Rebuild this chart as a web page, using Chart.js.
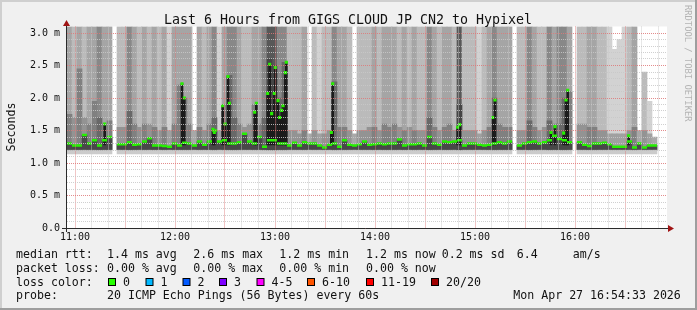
<!DOCTYPE html>
<html>
<head>
<meta charset="utf-8">
<script src="https://cdn.jsdelivr.net/npm/chart.js@4.4.1/dist/chart.umd.min.js"></script>
<style>
html, body { margin: 0; padding: 0; background: #f0f0f0; }
canvas { display: block; }
</style>
</head>
<body>
<canvas id="grafico" width="697" height="310"></canvas>
<script>
// Tempo em minutos depois das 10:00 (o gráfico começa 10:55:12, blocos de 3 min)
const inicio = 55.2;
const passo = 3;

// Tom da fumaça de cima por bloco: 0 branco, 1..5 claro -> escuro, null = sem dados
const tons = [
    3, 2, 3, 2, 3, 3, 4, 3, 3, null, 2, 2, 4, 3, 2, 3, 2, 3, 2, 3,
    1, 3, 3, 3, 3, 0, 3, 2, 3, 4, 1, 3, 4, 4, 3, 2, 2, 3, 3, 4,
    5, 5, 4, 4, 2, 2, 2, 3, 0, 2, 1, 2, 2, 4, 3, 3, 2, 0, 2, 2,
    2, 3, 2, 3, 3, 3, 2, 3, 2, 3, 2, 2, 4, 3, 2, 3, 3, 2, 5, 2,
    2, 2, 1, 2, 3, 4, 3, 3, 3, null, 2, 2, 4, 3, 2, 2, 4, 3, 4, 4,
    3, null, 2, 2, 3, 3, 2, 2, 1, 1, 1, 1, 2, 3, 0, 2, 1, 0, null, null
];

// Topo da fumaça (segundos em ms), 3.1 = passa do topo do gráfico
const topo = [
    3.1, 3.1, 3.1, 3.1, 3.1, 3.1, 3.1, 3.1, 3.1, null, 3.1, 3.1, 3.1, 3.1, 3.1, 3.1, 3.1, 3.1, 3.1, 3.1,
    3.1, 3.1, 3.1, 3.1, 3.1, null, 3.1, 3.1, 3.1, 3.1, 3.1, 3.1, 3.1, 3.1, 3.1, 3.1, 3.1, 3.1, 3.1, 3.1,
    3.1, 3.1, 3.1, 3.1, 3.1, 3.1, 3.1, 3.1, null, 3.1, 3.1, 3.1, 3.1, 3.1, 3.1, 3.1, 3.1, null, 3.1, 3.1,
    3.1, 3.1, 3.1, 3.1, 3.1, 3.1, 3.1, 3.1, 3.1, 3.1, 3.1, 3.1, 3.1, 3.1, 3.1, 3.1, 3.1, 3.1, 3.1, 3.1,
    3.1, 3.1, 3.1, 3.1, 3.1, 3.1, 3.1, 3.1, 3.1, null, 3.1, 3.1, 3.1, 3.1, 3.1, 3.1, 3.1, 3.1, 3.1, 3.1,
    3.1, null, 3.1, 3.1, 3.1, 3.1, 3.1, 3.1, 3.1, 2.75, 2.9, 3.1, 3.1, 3.1, null, 2.4, 1.95, null, null, null
];

// Topo da parte escura de baixo
const faixaBaixa = [
    1.75, 1.7, 2.45, 1.7, 1.6, 1.95, 1.7, 1.6, 1.65, null, 1.55, 1.55, 1.8, 1.6, 1.55, 1.6, 1.6, 1.55, 1.5, 1.55,
    1.5, 1.6, 2.2, 2.0, 1.6, 1.5, 1.55, 1.5, 1.6, 1.7, 1.5, 1.9, 2.35, 1.7, 1.6, 1.55, 1.6, 1.9, 1.6, 1.7,
    2.6, 2.5, 2.0, 2.55, 1.5, 1.5, 1.45, 1.5, 1.45, 1.5, 1.45, 1.45, 1.5, 2.25, 1.55, 1.55, 1.5, 1.45, 1.5, 1.5,
    1.55, 1.55, 1.5, 1.6, 1.55, 1.6, 1.55, 1.5, 1.55, 1.5, 1.5, 1.5, 1.7, 1.55, 1.5, 1.55, 1.6, 1.5, 1.9, 1.5,
    1.5, 1.5, 1.45, 1.5, 1.55, 2.0, 1.6, 1.55, 1.55, null, 1.5, 1.5, 1.65, 1.55, 1.5, 1.55, 1.65, 1.6, 1.6, 2.0,
    2.1, null, 1.6, 1.6, 1.55, 1.55, 1.5, 1.5, 1.45, 1.45, 1.45, 1.45, 1.5, 1.55, 1.5, 1.5, 1.45, 1.4, null, null
];

// Mediana do rtt por bloco
const mediana = [
    1.30, 1.27, 1.27, 1.43, 1.30, 1.35, 1.27, 1.35, 1.40, null, 1.29, 1.29, 1.32, 1.28, 1.29, 1.33, 1.38, 1.27, 1.27, 1.26,
    1.25, 1.30, 1.27, 1.31, 1.30, 1.27, 1.33, 1.28, 1.33, 1.50, 1.33, 1.35, 1.30, 1.30, 1.32, 1.45, 1.33, 1.30, 1.40, 1.25,
    1.35, 1.35, 1.30, 1.30, 1.27, 1.31, 1.27, 1.32, 1.30, 1.30, 1.27, 1.24, 1.28, 1.30, 1.25, 1.35, 1.28, 1.27, 1.29, 1.33,
    1.28, 1.29, 1.30, 1.29, 1.30, 1.30, 1.36, 1.27, 1.29, 1.29, 1.30, 1.27, 1.40, 1.30, 1.28, 1.33, 1.32, 1.33, 1.35, 1.27,
    1.30, 1.30, 1.28, 1.27, 1.28, 1.30, 1.32, 1.30, 1.33, null, 1.27, 1.30, 1.32, 1.33, 1.30, 1.32, 1.35, 1.42, 1.37, 1.35,
    1.32, null, 1.32, 1.28, 1.26, 1.30, 1.30, 1.31, 1.29, 1.25, 1.25, 1.25, 1.33, 1.24, 1.30, 1.24, 1.27, 1.27, null, null
];

// Picos da mediana (minutos depois das 10:00 e valor)
const picosT = [77.8, 124.2, 125.6, 142.8, 143.6, 148.6, 150.0, 151.8, 152.6, 167.8, 168.8,
    175.6, 176.8, 178.0, 179.6, 180.2, 181.8, 182.8, 184.0, 184.8, 186.2, 186.8,
    213.8, 214.6, 289.6, 290.8, 310.6, 312.0, 345.6, 348.0, 353.2, 354.6, 355.6, 392.2];
const picosV = [1.60, 2.22, 2.00, 1.52, 1.47, 1.88, 1.60, 2.33, 1.92, 1.78, 1.92,
    2.07, 2.52, 1.76, 2.07, 2.47, 1.96, 1.70, 1.81, 1.88, 2.39, 2.55,
    1.47, 2.22, 1.55, 1.59, 1.70, 1.97, 1.47, 1.56, 1.46, 1.97, 2.12, 1.42];

// Legenda das cores de perda
const perdaRotulos = ['0', '1', '2', '3', '4-5', '6-10', '11-19', '20/20'];
const perdaCores = ['#26ff00', '#00b8ff', '#0059ff', '#7e00ff', '#ff00ff', '#ff5500', '#ff0000', '#a00000'];
const perdaX = [108, 145.5, 182.5, 219, 256.5, 307, 366, 431];

const corTopo = ['#ffffff', '#d2d2d2', '#bbbbbb', '#a5a5a5', '#888888', '#585858'];
const corBaixo = ['#a8a8a8', '#a0a0a0', '#939393', '#808080', '#686868', '#454545'];
const verde = '#26f000';

// Monta os dados das camadas
const fumacaTopo = [], fumacaBaixo = [], nucleo = [], franja = [], linhaMediana = [];
tons.forEach((s, i) => {
    if (s === null) return;
    const x = inicio + passo * i + passo / 2;
    if (s > 0) fumacaTopo.push({ x, y: [1.2, topo[i]], s });
    fumacaBaixo.push({ x, y: [1.2, faixaBaixa[i]], s });
    nucleo.push({ x, y: [1.21, mediana[i]] });
    franja.push({ x, y: [1.14, 1.21] });
    linhaMediana.push({ x, y: mediana[i] });
});
const picos = picosT.map((t, i) => ({ x: t, y: picosV[i] }));
const picosBarra = picosT.map((t, i) => ({ x: t, y: [1.28, picosV[i]] }));

const xTicks = [];
for (let v = 60; v <= 410; v += 10) xTicks.push(v);
const yTicks = [];
for (let k = 0; k <= 30; k++) yTicks.push(k / 10);

function barra(data, cor, largura, ordem) {
    return { type: 'bar', data, backgroundColor: cor, barThickness: largura, grouped: false, borderWidth: 0, order: ordem };
}

function corGrade(maior) {
    return maior ? 'rgba(222,120,120,0.85)' : 'rgba(200,200,200,0.85)';
}

// Fundo, eixos, título e legenda
const decoracao = {
    id: 'decoracao',
    beforeDraw(chart) {
        const c = chart.ctx, a = chart.chartArea;
        c.save();
        c.fillStyle = '#f0f0f0';
        c.fillRect(0, 0, 697, 310);
        c.fillStyle = '#cfcfcf';
        c.fillRect(0, 0, 697, 2);
        c.fillRect(0, 0, 2, 310);
        c.fillStyle = '#9e9e9e';
        c.fillRect(0, 308, 697, 2);
        c.fillRect(695, 0, 2, 310);
        c.fillStyle = '#ffffff';
        c.fillRect(a.left, a.top, a.right - a.left, a.bottom - a.top);
        c.restore();
    },
    afterDraw(chart) {
        const c = chart.ctx;
        c.save();
        c.strokeStyle = '#2a2a2a';
        c.lineWidth = 1;
        c.beginPath();
        c.moveTo(62, 228.5); c.lineTo(669, 228.5);
        c.moveTo(66.5, 232); c.lineTo(66.5, 24);
        c.stroke();
        c.fillStyle = '#a01414';
        c.beginPath(); c.moveTo(668, 225); c.lineTo(674, 228.5); c.lineTo(668, 232); c.closePath(); c.fill();
        c.beginPath(); c.moveTo(63, 26); c.lineTo(66.5, 20); c.lineTo(70, 26); c.closePath(); c.fill();

        c.fillStyle = '#111';
        c.font = "13.3px 'DejaVu Sans Mono'";
        c.textAlign = 'center';
        c.fillText('Last 6 Hours from GIGS CLOUD JP CN2 to Hypixel', 348, 24);

        c.font = "11.6px 'DejaVu Sans Mono'";
        c.save();
        c.translate(14.5, 127);
        c.rotate(-Math.PI / 2);
        c.fillText('Seconds', 0, 0);
        c.restore();

        c.save();
        c.fillStyle = '#b4b4b4';
        c.font = "8.8px 'DejaVu Sans Mono'";
        c.textAlign = 'left';
        c.translate(684.5, 5);
        c.rotate(Math.PI / 2);
        c.fillText('RRDTOOL / TOBI OETIKER', 0, 0);
        c.restore();

        c.textAlign = 'left';
        const linhas = [
            [258, [[16, 'median rtt:'], [107, '1.4 ms avg'], [193.3, '2.6 ms max'], [279.3, '1.2 ms min'],
                [366, '1.2 ms now'], [441.7, '0.2 ms sd'], [516.7, '6.4'], [572.7, 'am/s']]],
            [271.8, [[16, 'packet loss:'], [107, '0.00 % avg'], [193.3, '0.00 % max'], [279.3, '0.00 % min'], [366, '0.00 % now']]],
            [285.6, [[16, 'loss color:']]],
            [299.4, [[16, 'probe:'], [107, '20 ICMP Echo Pings (56 Bytes) every 60s'], [513.3, 'Mon Apr 27 16:54:33 2026']]]
        ];
        linhas.forEach(([y, itens]) => itens.forEach(([x, t]) => c.fillText(t, x, y)));

        perdaRotulos.forEach((r, i) => {
            const x = perdaX[i];
            c.fillStyle = perdaCores[i];
            c.fillRect(x + 0.5, 278.5, 7, 7);
            c.strokeStyle = '#000';
            c.strokeRect(x + 0.5, 278.5, 7, 7);
            c.fillStyle = '#111';
            c.fillText(r, x + 15, 285.6);
        });
        c.restore();
    }
};

Chart.defaults.font.family = "'DejaVu Sans Mono', monospace";

const ctx = document.getElementById('grafico').getContext('2d');
window.grafico = new Chart(ctx, {
    type: 'bar',
    data: {
        datasets: [
            { type: 'line', data: picos, showLine: false, pointStyle: 'rect', pointRadius: 2.2,
              pointBorderWidth: 0, pointBackgroundColor: verde, order: 0 },
            { type: 'line', data: linhaMediana, showLine: false, pointStyle: 'line', pointRadius: 2.5,
              pointBorderWidth: 2.5, pointBorderColor: verde, pointBackgroundColor: verde, order: 1 },
            barra(picosBarra, '#1c1c1c', 2, 2),
            barra(nucleo, '#484848', 5, 3),
            barra(fumacaBaixo, c => c.raw ? corBaixo[c.raw.s] : '#999', 5, 4),
            barra(franja, '#cbcbcb', 5, 5),
            barra(fumacaTopo, c => c.raw ? corTopo[c.raw.s] : '#bbb', 5, 6)
        ]
    },
    options: {
        responsive: false,
        animation: false,
        events: [],
        layout: { padding: { top: 26.5, right: 30, left: 0, bottom: 0 } },
        plugins: { legend: { display: false }, tooltip: { enabled: false } },
        scales: {
            x: {
                type: 'linear',
                min: 55.2,
                max: 415.2,
                offset: false,
                afterFit: s => { s.height = 82; },
                afterBuildTicks: s => { s.ticks = xTicks.map(v => ({ value: v })); },
                grid: { offset: false, drawTicks: false, z: 1, color: c => corGrade(c.tick && c.tick.value % 30 === 0) },
                border: { display: false, dash: [1, 1] },
                ticks: {
                    autoSkip: false, maxRotation: 0, padding: 3, color: '#111', font: { size: 10 },
                    callback: v => v % 60 === 0 ? (10 + v / 60) + ':00' : ''
                }
            },
            y: {
                min: 0,
                max: 3.1,
                afterFit: s => { s.width = 67; },
                afterBuildTicks: s => { s.ticks = yTicks.map(v => ({ value: v })); },
                grid: { drawTicks: false, z: 1, color: c => corGrade(c.tick && Math.round(c.tick.value * 10) % 5 === 0) },
                border: { display: false, dash: [1, 1] },
                ticks: {
                    autoSkip: false, padding: 7, color: '#111', font: { size: 10 },
                    callback: v => {
                        const d = Math.round(v * 10);
                        if (d % 5) return '';
                        return d === 0 ? '0.0' : (d / 10).toFixed(1) + ' m';
                    }
                }
            }
        }
    },
    plugins: [decoracao]
});
</script>
</body>
</html>
